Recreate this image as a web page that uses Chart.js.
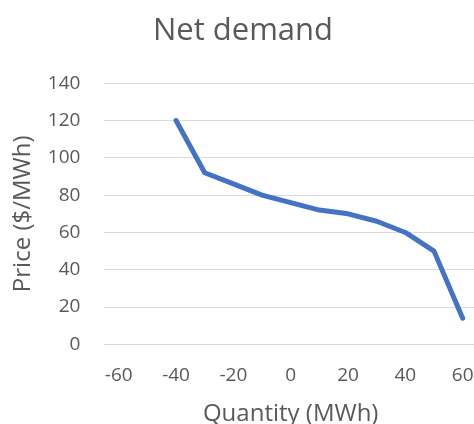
<!DOCTYPE html>
<html>
<head>
<meta charset="utf-8">
<script src="https://cdn.jsdelivr.net/npm/chart.js@4/dist/chart.umd.min.js"></script>
<style>
  html, body { margin: 0; padding: 0; background: #ffffff; overflow: hidden; }
  #wrap { width: 477px; height: 429px; }
</style>
</head>
<body>
<div id="wrap"><canvas id="chart"></canvas></div>
<script>
// Quantity categories (MWh) and the net demand price at each (blank where no bid)
const quantities = [-60, -50, -40, -30, -20, -10, 0, 10, 20, 30, 40, 50, 60];
const prices = [null, null, 120, 92, 86, 80, 76, 72, 70, 66, 60, 50, 14];
const priceTicks = [0, 20, 40, 60, 80, 100, 120, 140];

const textColor = '#595959';
const gridColor = '#d9d9d9';
const font = "'Open Sans', 'Noto Sans', sans-serif";

new Chart(document.getElementById('chart'), {
  type: 'line',
  data: {
    labels: quantities.map(String),
    datasets: [{
      label: 'Net demand',
      data: prices,
      borderColor: '#4472c4',
      borderWidth: 5,
      borderCapStyle: 'round',
      borderJoinStyle: 'round',
      pointRadius: 0,
      tension: 0,
      spanGaps: false
    }]
  },
  options: {
    responsive: true,
    maintainAspectRatio: false,
    animation: false,
    layout: { padding: { left: 9, right: 0, top: 13, bottom: 0 } },
    plugins: {
      legend: { display: false },
      tooltip: { enabled: false },
      title: {
        display: true,
        text: 'Net demand',
        color: textColor,
        font: { family: font, size: 31, weight: 'normal' },
        padding: { top: 0, bottom: 33 }
      }
    },
    scales: {
      x: {
        type: 'category',
        offset: true,
        // invisible tick marks reserve the gap between the axis and its labels
        grid: {
          display: true,
          drawOnChartArea: false,
          drawTicks: true,
          tickLength: 20,
          color: 'rgba(0,0,0,0)',
          tickColor: 'rgba(0,0,0,0)'
        },
        border: { display: false },
        ticks: {
          color: textColor,
          font: { family: font, size: 19 },
          padding: 0,
          autoSkip: false,
          maxRotation: 0,
          callback: function (value, index) {
            return index % 2 === 0 ? quantities[index] : '';
          }
        },
        title: {
          display: true,
          text: 'Quantity (MWh)',
          color: textColor,
          font: { family: font, size: 24 },
          padding: { top: 13, bottom: 0 }
        }
      },
      y: {
        min: 0,
        max: 140,
        afterBuildTicks: function (axis) {
          axis.ticks = priceTicks.map(v => ({ value: v }));
        },
        grid: {
          color: gridColor,
          lineWidth: 1,
          drawTicks: true,
          tickLength: 24,
          tickColor: 'rgba(0,0,0,0)'
        },
        border: { display: false },
        ticks: {
          color: textColor,
          font: { family: font, size: 19 },
          padding: 0
        },
        title: {
          display: true,
          text: 'Price ($/MWh)',
          color: textColor,
          font: { family: font, size: 24 },
          padding: { top: 0, bottom: 10 }
        }
      }
    }
  }
});
</script>
</body>
</html>
